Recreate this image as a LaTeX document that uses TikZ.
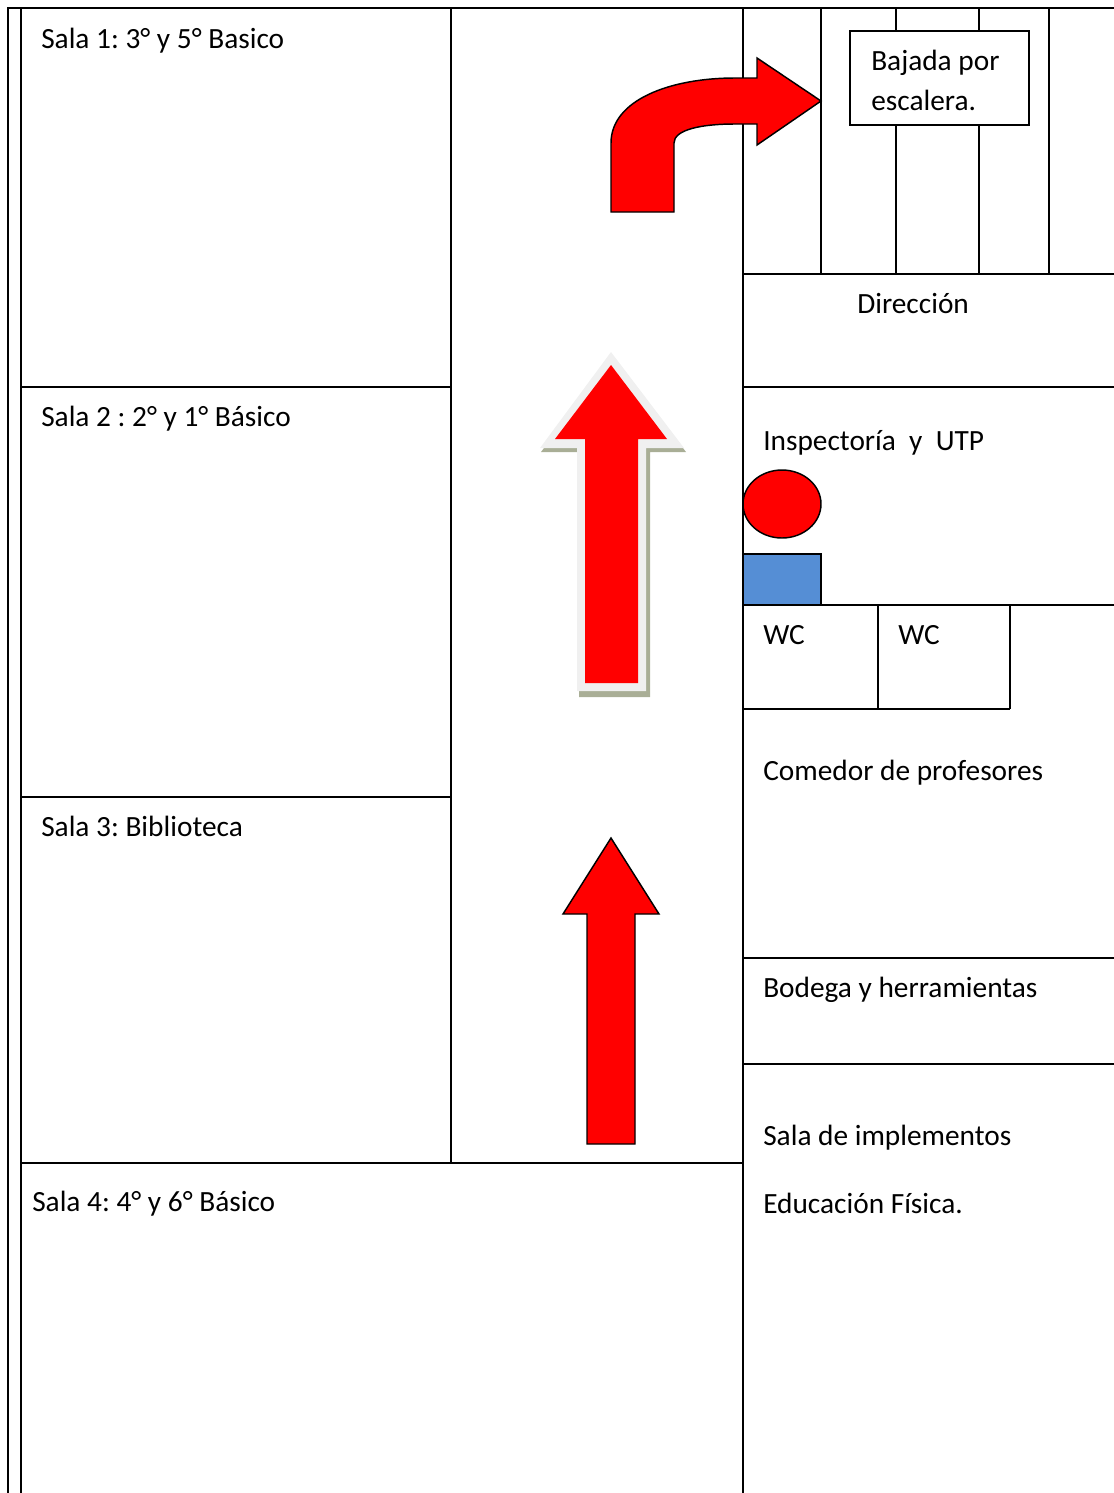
\documentclass[tikz,border=0pt]{standalone}
\usepackage{fontspec}
\setmainfont{Carlito}
\definecolor{arrowred}{HTML}{FF0000}
\definecolor{boxblue}{HTML}{558ED5}
\definecolor{bevelgrey}{HTML}{F0F0F0}
\definecolor{shadowolive}{HTML}{A9AE96}
\tikzset{
  wall/.style={draw=black,line width=1.1pt},
  lbl/.style={anchor=base west,inner sep=0pt,font=\fontsize{22pt}{26pt}\selectfont},
  redshape/.style={fill=arrowred,draw=black,line width=1.1pt,line join=miter}
}
\begin{document}
\frenchspacing
\begin{tikzpicture}[x=0.75pt,y=-0.75pt]
\useasboundingbox (0,0) rectangle (1114,1493);
% outer walls
\draw[wall,line width=1.5pt] (8,1493) -- (8,8) -- (1114,8);
\draw[wall] (21,1493) -- (21,8);
\draw[wall] (451,8) -- (451,1163);
\draw[wall] (743,8) -- (743,1493);
% left rooms
\draw[wall] (21,387) -- (451,387);
\draw[wall] (21,797) -- (451,797);
\draw[wall] (21,1163) -- (743,1163);
% stairs
\draw[wall] (821,8) -- (821,274);
\draw[wall] (896,8) -- (896,274);
\draw[wall] (979,8) -- (979,274);
\draw[wall] (1049,8) -- (1049,274);
% right rooms
\draw[wall] (743,274) -- (1114,274);
\draw[wall] (743,387) -- (1114,387);
\draw[wall] (743,605) -- (1114,605);
\draw[wall] (743,709) -- (1010,709);
\draw[wall] (878,605) -- (878,709);
\draw[wall] (1010,605) -- (1010,709);
\draw[wall] (743,958) -- (1114,958);
\draw[wall] (743,1064) -- (1114,1064);
% stair label box
\draw[wall,fill=white] (850,31) rectangle (1029,125);
% symbols
\draw[redshape] (782,504) ellipse [x radius=39,y radius=34];
\draw[wall,fill=boxblue] (743,554) rectangle (821,605);
% bent arrow
\draw[redshape] (611,212) -- (611,143) .. controls (611,100) and (670,78) .. (735,78)
  -- (757,78) -- (757,58) -- (821,101) -- (757,145) -- (757,124) -- (735,124)
  .. controls (700,124) and (674,130) .. (674,143) -- (674,212) -- cycle;
% bevelled arrow
\fill[shadowolive] (613,356) -- (686,452) -- (650,452) -- (650,697) -- (579,697) -- (579,452) -- (541,452) -- cycle;
\fill[bevelgrey] (611,352) -- (684,448) -- (646,448) -- (646,691) -- (577,691) -- (577,448) -- (540,448) -- cycle;
\fill[arrowred] (611,365) -- (667,439) -- (638,439) -- (638,683) -- (585,683) -- (585,439) -- (555,439) -- cycle;
% straight arrow
\draw[redshape] (611,838) -- (659,914) -- (635,914) -- (635,1144) -- (587,1144) -- (587,914) -- (563,914) -- cycle;
% labels
\node[lbl] (s1) at (41,48) {Sala 1: 3° y 5° Basico};
\node[lbl] (s2) at (41,426) {Sala 2 : 2° y 1° Básico};
\node[lbl] (s3) at (41,836) {Sala 3: Biblioteca};
\node[lbl] (s4) at (32,1211) {Sala 4: 4° y 6° Básico};
\node[lbl] (baj1) at (871,70) {Bajada por};
\node[lbl] (baj2) at (871,110) {escalera.};
\node[lbl] (dir) at (857,313) {Dirección};
\node[lbl] (insp) at (763,450) {Inspectoría\ \ y\ \ UTP};
\node[lbl] (wc1) at (763,644) {WC};
\node[lbl] (wc2) at (898,644) {WC};
\node[lbl] (com) at (763,780) {Comedor de profesores};
\node[lbl] (bod) at (763,997) {Bodega y herramientas};
\node[lbl] (imp) at (763,1145) {Sala de implementos};
\node[lbl] (edu) at (763,1213) {Educación Física.};
\end{tikzpicture}
\end{document}
